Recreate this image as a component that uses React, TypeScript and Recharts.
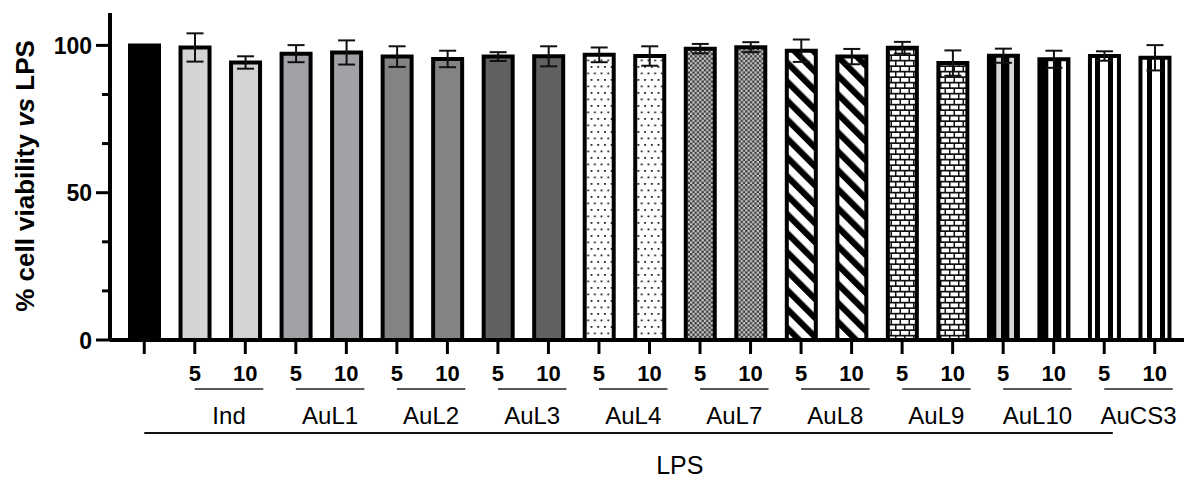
import { Bar, BarChart, Cell, ErrorBar, XAxis, YAxis } from "recharts";

const groupNames = ["Ind", "AuL1", "AuL2", "AuL3", "AuL4", "AuL7", "AuL8", "AuL9", "AuL10", "AuCS3"];
const doses = ["5", "10"];
const controlMean = 100;
const means5 = [99.3, 97.2, 96.2, 96.2, 96.8, 98.9, 98.2, 99.2, 96.5, 96.4];
const means10 = [94.2, 97.6, 95.4, 96.3, 96.4, 99.4, 96.2, 94.0, 95.3, 95.8];
const sd5 = [4.8, 2.9, 3.5, 1.5, 2.5, 1.6, 3.8, 2.0, 2.4, 1.6];
const sd10 = [2.1, 4.1, 2.8, 3.4, 3.3, 1.7, 2.6, 4.3, 2.9, 4.3];
const yTicks = [0, 16.67, 33.33, 50, 66.67, 83.33, 100];
const yLabels = [0, 50, 100];

// fill per group: [5, 10]
const fills5 = ["#d4d4d4", "#a2a2a6", "#838383", "#616161", "url(#dots)", "url(#checks)", "url(#diag)", "url(#brick)", "url(#vstripeGray)", "url(#vstripeThin)"];
const fills10 = ["#d4d4d4", "#a2a2a6", "#838383", "#616161", "url(#dots)", "url(#checks)", "url(#diag)", "url(#brick)", "url(#vstripeWhite)", "url(#vstripeThin)"];

const W = 1184;
const H = 477;
const YW = 110;
const TOP = 13;
const AXIS_Y = 340;
const PAD_L = 9;
const PAD_R = 4;
const FONT = "'Liberation Sans', Arial, sans-serif";

type Row = { key: string; group: string; dose: string; mean: number; sd: number; fill: string };

const rows: Row[] = [{ key: "ctrl", group: "", dose: "", mean: controlMean, sd: 0, fill: "#000" }];
groupNames.forEach((g, i) => {
  rows.push({ key: g + "-" + doses[0], group: g, dose: doses[0], mean: means5[i], sd: sd5[i], fill: fills5[i] });
  rows.push({ key: g + "-" + doses[1], group: g, dose: doses[1], mean: means10[i], sd: sd10[i], fill: fills10[i] });
});

const step = (W - YW - PAD_L - PAD_R) / rows.length;

function YTick(props: any) {
  const { y, payload } = props;
  const major = yLabels.includes(payload.value);
  return (
    <g>
      <line x1={YW - (major ? 14 : 8)} x2={YW} y1={y} y2={y} stroke="#000" strokeWidth={3} />
      {major && (
        <text x={YW - 18} y={y + 8.5} textAnchor="end" fontSize={23} fontWeight="bold" fontFamily={FONT} fill="#000">
          {payload.value}
        </text>
      )}
    </g>
  );
}

function XTick(props: any) {
  const { x, payload } = props;
  const r = rows.find((d) => d.key === payload.value);
  if (!r) return null;
  if (r.group === "") {
    return (
      <g fontFamily={FONT}>
        <line x1={x} x2={x + step * 19.17} y1={AXIS_Y + 93} y2={AXIS_Y + 93} stroke="#111" strokeWidth={2} />
        <text x={x + step * 10.6} y={AXIS_Y + 134} textAnchor="middle" fontSize={25} fill="#000">
          LPS
        </text>
      </g>
    );
  }
  const first = r.dose === doses[0];
  return (
    <g fontFamily={FONT}>
      <text x={x} y={AXIS_Y + 41} textAnchor="middle" fontSize={22} fontWeight="bold" fill="#000">
        {r.dose}
      </text>
      {first && (
        <>
          <line x1={x} x2={x + step + 18} y1={AXIS_Y + 49} y2={AXIS_Y + 49} stroke="#222" strokeWidth={1.6} />
          <text x={x + (step + 18) / 2} y={AXIS_Y + 84} textAnchor="middle" fontSize={24} fill="#000">
            {r.group}
          </text>
        </>
      )}
    </g>
  );
}

export default function App() {
  return (
    <div style={{ position: "absolute", left: 0, top: 0, width: W, height: H, background: "#fff" }}>
      <BarChart
        width={W}
        height={H}
        data={rows}
        margin={{ top: TOP, right: 0, bottom: H - AXIS_Y - 30, left: 0 }}
        style={{ overflow: "visible" }}
      >
        <defs>
          <pattern id="dots" patternUnits="userSpaceOnUse" width={6.7} height={13}>
            <rect width={6.7} height={13} fill="#fff" />
            <rect x={1} y={1} width={1.8} height={1.8} fill="#222" />
            <rect x={4.35} y={7.5} width={1.8} height={1.8} fill="#222" />
          </pattern>
          <pattern id="checks" patternUnits="userSpaceOnUse" width={4.6} height={4.6}>
            <rect width={4.6} height={4.6} fill="#c8c8c8" />
            <rect width={2.3} height={2.3} fill="#3a3a3a" />
            <rect x={2.3} y={2.3} width={2.3} height={2.3} fill="#3a3a3a" />
          </pattern>
          <pattern id="diag" patternUnits="userSpaceOnUse" width={13.4} height={13.4} patternTransform="rotate(-45)">
            <rect width={13.4} height={13.4} fill="#fff" />
            <rect width={6.2} height={13.4} fill="#000" />
          </pattern>
          <pattern id="brick" patternUnits="userSpaceOnUse" width={9} height={11}>
            <rect width={9} height={11} fill="#111" />
            <rect x={1} y={1} width={7.5} height={3.8} fill="#fff" />
            <rect x={-3.5} y={6.5} width={7.5} height={3.8} fill="#fff" />
            <rect x={5.5} y={6.5} width={7.5} height={3.8} fill="#fff" />
          </pattern>
          <pattern id="vstripeGray" patternUnits="userSpaceOnUse" width={13} height={10}>
            <rect width={13} height={10} fill="#d6d6d6" />
            <rect width={8.3} height={10} fill="#000" />
          </pattern>
          <pattern id="vstripeWhite" patternUnits="userSpaceOnUse" width={13} height={10}>
            <rect width={13} height={10} fill="#fff" />
            <rect width={8.3} height={10} fill="#000" />
          </pattern>
          <pattern id="vstripeThin" patternUnits="userSpaceOnUse" width={13} height={10}>
            <rect width={13} height={10} fill="#fff" />
            <rect x={3} width={5} height={10} fill="#000" />
          </pattern>
        </defs>
        <XAxis
          dataKey="key"
          type="category"
          interval={0}
          height={30}
          padding={{ left: PAD_L, right: PAD_R }}
          axisLine={{ stroke: "#000", strokeWidth: 4 }}
          tickLine={{ stroke: "#000", strokeWidth: 3 }}
          tickSize={14}
          tickMargin={0}
          tick={<XTick />}
        />
        <YAxis
          width={YW}
          domain={[0, 111]}
          ticks={yTicks}
          interval={0}
          axisLine={{ stroke: "#000", strokeWidth: 4 }}
          tickLine={false}
          tickSize={0}
          tickMargin={0}
          tick={<YTick />}
          allowDataOverflow
        />
        <Bar dataKey="mean" barSize={29} stroke="#000" strokeWidth={4} isAnimationActive={false}>
          {rows.map((r) => (
            <Cell key={r.key} fill={r.fill} />
          ))}
          <ErrorBar dataKey="sd" width={8.5} stroke="#111" strokeWidth={2} direction="y" />
        </Bar>
        <text
          transform="translate(34,176) rotate(-90)"
          textAnchor="middle"
          fontSize={26}
          fontWeight="bold"
          fontFamily={FONT}
          fill="#000"
        >
          % cell viability <tspan fontStyle="italic">vs</tspan> LPS
        </text>
      </BarChart>
    </div>
  );
}
